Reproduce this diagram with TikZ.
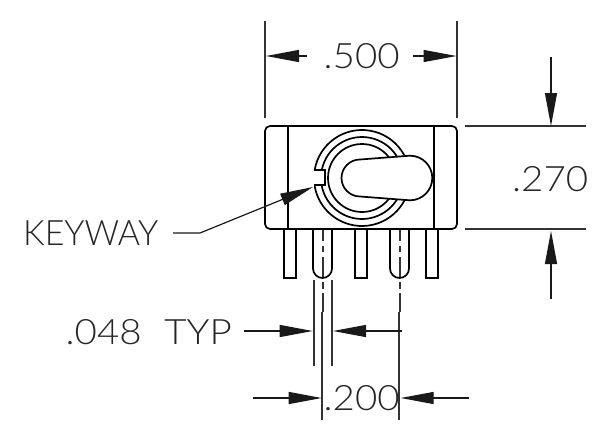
\documentclass[tikz,border=0pt]{standalone}
\usepackage{fontspec}
\setmainfont{Lato Light}
\newfontfamily\digfont[FakeStretch=1.1]{Lato Light}
\newfontfamily\keyfont[FakeStretch=0.97]{Lato Light}
\usetikzlibrary{arrows.meta}
\tikzset{
  obj/.style={line width=1.7pt,black},
  dim/.style={line width=1.2pt,black!80},
  ctr/.style={line width=1.2pt,black!80,dash pattern=on 21pt off 4.5pt on 6.5pt off 4.5pt},
  arw/.style={line width=1.2pt,black!90,-{Triangle[length=33pt,width=12pt]}},
  lbl/.style={inner sep=0pt,anchor=base west,fontsize=35,black!85},
  fontsize/.style={font=\fontsize{#1}{#1}\selectfont},
}
\begin{document}
\begin{tikzpicture}[x=1pt,y=-1pt]
\useasboundingbox (0,0) rectangle (595,426);
% centre lines behind
\coordinate (c1t) at (323,220); \coordinate (c1b) at (323,312);
\coordinate (c2t) at (400,220); \coordinate (c2b) at (400,312);
\draw[ctr] (c1t) -- (c1b);
\draw[ctr] (c2t) -- (c2b);
% pins
\foreach \a/\b in {284/296,355/367,426/438}
  \draw[obj] (\a,229) -- (\a,278) -- (\b,278) -- (\b,229);
\draw[obj] (313,229) -- (313,268.5) arc[start angle=180,end angle=0,radius=9.5] -- (332,229);
\draw[obj] (390,229) -- (390,268.5) arc[start angle=180,end angle=0,radius=9.5] -- (409,229);
% body
\draw[obj,fill=white,rounded corners=5pt] (265,126) rectangle (457,229);
\draw[obj] (288,126) -- (288,229);
\draw[obj] (434,126) -- (434,229);
% rings
\draw[obj] (314,170) -- (325,170) -- (325,185) -- (314,185);
\draw[obj] (362,178) ++(189.6:48) arc[start angle=189.6,end angle=530.4,radius=48];
\draw[obj] (362,178) ++(191.3:41) arc[start angle=191.3,end angle=528.7,radius=41];
\draw[obj] (362,178) circle[radius=34];
% handle
\draw[obj,fill=white] (360,159.5) -- (410,155.7) arc[start angle=-90,end angle=90,radius=22.3] -- (360,196.5) arc[start angle=90,end angle=270,radius=18.5] -- cycle;
% extension lines
\draw[dim] (265,21) -- (265,118);
\draw[dim] (457,21) -- (457,118);
\draw[dim] (465,126) -- (586,126);
\draw[dim] (465,229) -- (586,229);
\draw[dim] (314,280) -- (314,365.7);
\draw[dim] (332,280) -- (332,365.7);
\draw[dim] (322,312) -- (322,420);
\draw[dim] (399,312) -- (399,420);
% arrows
\coordinate (a1) at (307,56); \coordinate (a1t) at (266,56);
\coordinate (a2) at (413,56); \coordinate (a2t) at (456.5,56);
\draw[arw] (a1) -- (a1t);
\draw[arw] (a2) -- (a2t);
\draw[arw] (551,57) -- (551,126);
\draw[arw] (551,299) -- (551,231);
\draw[arw] (244,331) -- (312.7,331);
\draw[arw] (401.7,331) -- (333,331);
\draw[arw] (253,398) -- (321.7,398);
\draw[arw] (469,398) -- (400.7,398);
\draw[arw] (173,233) -- (200,233) -- (313,187);
% labels
\node[lbl] (t500) at (323.5,68) {\digfont .500};
\node[lbl] (t270) at (512,191) {\digfont .270};
\node[lbl] (tkey) at (23,245.7) {\keyfont KEYWAY};
\node[lbl] (t048) at (65.5,344) {\digfont .048\hspace{.65em}TYP};
\node[lbl] (t200) at (323.5,410) {\digfont .200};
\end{tikzpicture}
\end{document}
